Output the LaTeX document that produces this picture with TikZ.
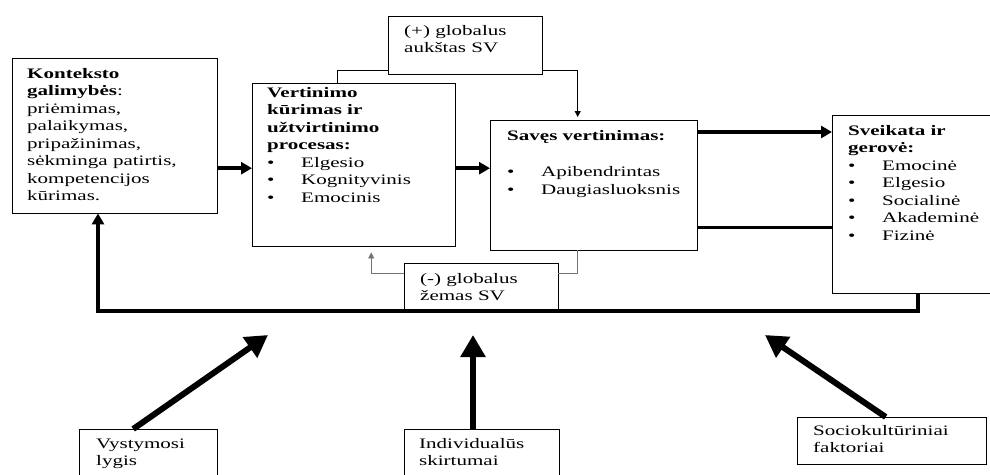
\documentclass[tikz,border=0pt]{standalone}
\usepackage{fontspec}
\setmainfont{Liberation Serif}
\newfontfamily\figfont[FakeStretch=1.45]{Liberation Serif}
\usetikzlibrary{arrows.meta}
\newcommand{\blt}{\makebox[34pt][l]{\textbullet}}
\tikzset{
  blk/.style={draw, fill=white, anchor=north west, inner sep=0pt},
  txt/.style={anchor=north west, align=left, inner sep=0pt,
    font=\fontsize{14.5}{17.5}\figfont},
  fat/.style={line width=3.5pt, -{Triangle[length=11pt,width=12pt]}},
  fatline/.style={line width=3.5pt},
  thinline/.style={line width=0.8pt},
  thinarr/.style={line width=0.8pt, -{Triangle[length=6pt,width=6pt]}},
  bigarr/.style={line width=6pt, -{Triangle[length=22pt,width=24pt]}}
}
\begin{document}
\begin{tikzpicture}[x=1pt,y=-1pt]
\useasboundingbox (0,0) rectangle (990,474);
% Boxes
\node[blk, minimum width=205pt, minimum height=155pt] (ctx) at (12,58) {};
\node[txt] (ctx-t) at ([xshift=15pt,yshift=-8pt]ctx.north west) {\strut\textbf{Konteksto}\\
  \textbf{galimybės}:\\ priėmimas,\\ palaikymas,\\ pripažinimas,\\
  sėkminga patirtis,\\ kompetencijos\\ kūrimas.};
\node[blk, minimum width=203pt, minimum height=163pt] (val) at (252,83) {};
\node[txt] (val-t) at ([xshift=15pt,yshift=-2pt]val.north west) {\strut\textbf{Vertinimo}\\
  \textbf{kūrimas ir}\\ \textbf{užtvirtinimo}\\ \textbf{procesas:}\\
  \blt Elgesio\\ \blt Kognityvinis\\ \blt Emocinis};
\node[blk, minimum width=154pt, minimum height=58pt] (hi) at (388,16) {};
\node[txt] (hi-t) at ([xshift=16pt,yshift=-7pt]hi.north west) {\strut(+) globalus\\ aukštas SV};
\node[blk, minimum width=207pt, minimum height=130pt] (self) at (490,120) {};
\node[txt] (self-t) at ([xshift=17pt,yshift=-8pt]self.north west) {\strut\textbf{Savęs vertinimas:}\\[19pt]
  \blt Apibendrintas\\ \blt Daugiasluoksnis};
\node[blk, minimum width=172pt, minimum height=178pt] (health) at (832,115) {};
\node[txt] (health-t) at ([xshift=16pt,yshift=-8pt]health.north west) {\strut\textbf{Sveikata ir}\\
  \textbf{gerovė:}\\ \blt Emocinė\\ \blt Elgesio\\ \blt Socialinė\\
  \blt Akademinė\\ \blt Fizinė};
% Feedback loop
\coordinate (turn) at (98,311);
\draw[fat] (health.south) |- (turn) -- (turn |- ctx.south);
\node[blk, minimum width=154pt, minimum height=46pt] (lo) at (404,263) {};
\node[txt] (lo-t) at ([xshift=16pt,yshift=-8pt]lo.north west) {\strut(-) globalus\\ žemas SV};
% Main arrows
\draw[fat] (ctx.east |- val.east) ++(0,3.5) -- ([yshift=-3.5pt]val.west);
\draw[fat] ([yshift=-3.5pt]val.east) -- ([yshift=-3.5pt]val.east -| self.west);
\draw[fat] ([yshift=-12pt]self.north east) -- ([yshift=-12pt]self.north east -| health.west);
\draw[fatline] ([yshift=23pt]self.south east) -- ([yshift=23pt]self.south east -| health.west);
% High / low self esteem
\draw[thinline] ([xshift=-16pt]val.north) |- ([yshift=4pt]hi.south west);
\draw[thinarr, shorten >=3pt] ([yshift=4pt]hi.south east) -| ([xshift=-16pt]self.north);
\draw[thinline, black!55] ([xshift=-16pt]self.south) |- ([yshift=13pt]lo.east);
\draw[thinarr, black!55, shorten >=6pt] ([yshift=13pt]lo.west) -| ([xshift=17.5pt]val.south);
% Factors
\node[blk, minimum width=138pt, minimum height=60pt] (dev) at (79,429) {};
\node[txt] (dev-t) at ([xshift=17pt,yshift=-7pt]dev.north west) {\strut Vystymosi\\ lygis};
\node[blk, minimum width=155pt, minimum height=60pt] (ind) at (404,429) {};
\node[txt] (ind-t) at ([xshift=15pt,yshift=-7pt]ind.north west) {\strut Individualūs\\ skirtumai};
\node[blk, minimum width=189pt, minimum height=47pt] (soc) at (797,417) {};
\node[txt] (soc-t) at ([xshift=16pt,yshift=-6pt]soc.north west) {\strut Sociokultūriniai\\ faktoriai};
\coordinate (t1) at (268,335);
\coordinate (t2) at (473,335);
\coordinate (t3) at (765,335);
\draw[bigarr] ([xshift=-15pt]dev.north) -- (t1);
\draw[bigarr] (ind.north -| t2) -- (t2);
\draw[bigarr] ([xshift=-6pt]soc.north) -- (t3);
\end{tikzpicture}
\end{document}
